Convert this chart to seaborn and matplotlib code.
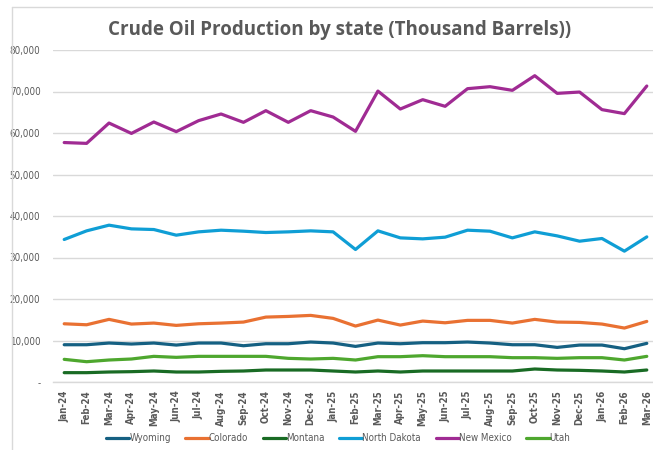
import matplotlib
matplotlib.use('Agg')
import matplotlib.pyplot as plt
import matplotlib.ticker as mticker
from matplotlib.lines import Line2D
import pandas as pd
import seaborn as sns

# Monthly labels, Jan-24 .. Mar-26
months = ['Jan-24', 'Feb-24', 'Mar-24', 'Apr-24', 'May-24', 'Jun-24', 'Jul-24',
          'Aug-24', 'Sep-24', 'Oct-24', 'Nov-24', 'Dec-24', 'Jan-25', 'Feb-25',
          'Mar-25', 'Apr-25', 'May-25', 'Jun-25', 'Jul-25', 'Aug-25', 'Sep-25',
          'Oct-25', 'Nov-25', 'Dec-25', 'Jan-26', 'Feb-26', 'Mar-26']

wyoming = [8980, 8980, 9390, 9150, 9390, 8900, 9390, 9390, 8740, 9220, 9220, 9630,
           9390, 8580, 9390, 9220, 9470, 9470, 9630, 9390, 8980, 8980, 8340, 8900,
           8900, 8020, 9310]
colorado = [14030, 13790, 15090, 13960, 14200, 13640, 14030, 14200, 14440, 15640,
            15800, 16050, 15330, 13480, 14920, 13720, 14680, 14270, 14850, 14850,
            14200, 15090, 14440, 14360, 13960, 13000, 14600]
montana = [2250, 2250, 2410, 2490, 2650, 2410, 2410, 2570, 2650, 2890, 2890, 2890,
           2650, 2410, 2650, 2410, 2650, 2650, 2650, 2650, 2650, 3130, 2890, 2810,
           2650, 2410, 2890]
north_dakota = [34340, 36420, 37790, 36900, 36740, 35380, 36180, 36580, 36340, 36020,
                36180, 36420, 36180, 31930, 36420, 34730, 34490, 34900, 36580, 36340,
                34730, 36180, 35210, 33930, 34580, 31530, 34970]
new_mexico = [57700, 57500, 62400, 59900, 62650, 60330, 62980, 64580, 62570, 65380,
              62570, 65380, 63850, 60400, 70100, 65780, 68030, 66430, 70680, 71160,
              70280, 73810, 69550, 69870, 65630, 64670, 71320]
utah = [5460, 4890, 5300, 5540, 6180, 5940, 6180, 6180, 6180, 6180, 5700, 5540,
        5700, 5300, 6100, 6100, 6340, 6100, 6100, 6100, 5860, 5860, 5700, 5860,
        5860, 5300, 6180]

states = ['Wyoming', 'Colorado', 'Montana', 'North Dakota', 'New Mexico', 'Utah']
colors = ['#156082', '#E97132', '#196B24', '#0F9ED5', '#A02B93', '#4EA72E']

series = dict(zip(states, [wyoming, colorado, montana, north_dakota, new_mexico, utah]))
df = pd.DataFrame([
    {'Month': i, 'State': s, 'Barrels': v}
    for s in states for i, v in enumerate(series[s])
])

sns.set_style('white')
plt.rcParams['font.family'] = ['DejaVu Sans']
plt.rcParams['font.stretch'] = 'condensed'

fig = plt.figure(figsize=(6.53, 4.5), dpi=100)
ax = fig.add_axes([53 / 653, 1 - 382 / 450, 605 / 653, 332 / 450])

sns.lineplot(data=df, x='Month', y='Barrels', hue='State', hue_order=states,
             palette=colors, linewidth=2.3, ax=ax, legend=False)

# Axes styling
ax.set_xlim(-0.5, len(months) - 0.5)
ax.set_ylim(0, 80000)
ax.set_xlabel('')
ax.set_ylabel('')
ax.yaxis.set_major_locator(mticker.MultipleLocator(10000))
ax.yaxis.set_major_formatter(
    mticker.FuncFormatter(lambda v, p: '-' if v == 0 else f'{int(v):,}'))
ax.grid(axis='y', color='#d9d9d9', linewidth=1)
ax.set_axisbelow(True)
for side in ['top', 'right', 'left']:
    ax.spines[side].set_visible(False)
ax.spines['bottom'].set_color('#d9d9d9')
ax.spines['bottom'].set_linewidth(1)

ax.set_xticks(range(len(months)))
ax.set_xticklabels(months, rotation=90, fontsize=7, color='#595959',
                   fontweight='bold')
ax.set_xticks([i - 0.5 for i in range(len(months) + 1)], minor=True)
ax.tick_params(axis='x', which='major', length=0, pad=6)
ax.tick_params(axis='x', which='minor', length=4, color='#d9d9d9', width=1)
ax.tick_params(axis='y', length=0, pad=9, labelsize=7, labelcolor='#595959')

fig.text(0.52, 1 - 30 / 450, 'Crude Oil Production by state (Thousand Barrels))',
         ha='center', va='center', fontsize=13.5, fontweight='bold', color='#595959',
         family=['Open Sans', 'DejaVu Sans'], fontstretch='normal')

handles = [Line2D([0], [0], color=c, lw=2.3) for c in colors]
fig.legend(handles, states, loc='center', bbox_to_anchor=(0.518, 1 - 438 / 450),
           ncol=6, frameon=False, fontsize=7, handlelength=2.4, handletextpad=0.0,
           columnspacing=1.5, labelcolor='#595959')

# chart border (cropped Excel chart area)
fig.add_artist(Line2D([12 / 653, 12 / 653], [0, 1 - 7 / 450], color='#d9d9d9',
                      lw=1, transform=fig.transFigure))
fig.add_artist(Line2D([12 / 653, 1], [1 - 7 / 450, 1 - 7 / 450], color='#d9d9d9',
                      lw=1, transform=fig.transFigure))

fig.savefig('out.png', dpi=100)
